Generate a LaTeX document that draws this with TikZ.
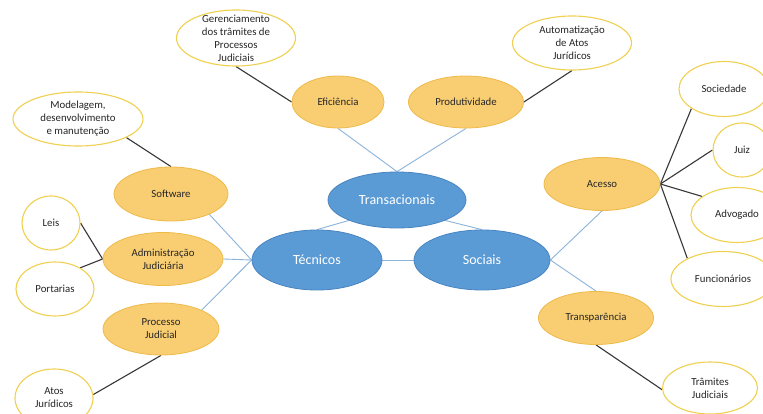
\documentclass[tikz,border=0pt]{standalone}
\usepackage{fontspec}
\setmainfont{Carlito}
\usetikzlibrary{shapes.geometric,backgrounds}

\definecolor{corefill}{RGB}{91,155,213}
\definecolor{coreline}{RGB}{72,132,192}
\definecolor{topicfill}{RGB}{249,206,114}
\definecolor{topicline}{RGB}{238,186,72}
\definecolor{leafline}{RGB}{240,208,80}
\definecolor{hubline}{RGB}{140,180,218}
\definecolor{twigline}{RGB}{55,55,55}
\definecolor{ink}{RGB}{38,38,38}

\tikzset{
  core/.style={ellipse, draw=coreline, fill=corefill, line width=0.8pt, inner sep=0pt},
  topic/.style={ellipse, draw=topicline, fill=topicfill, line width=0.8pt, inner sep=0pt},
  leaf/.style={ellipse, draw=leafline, fill=white, line width=1.1pt, inner sep=0pt},
  sz/.style 2 args={minimum width=#1, minimum height=#2},
  coretext/.style={font=\fontsize{14}{16}\selectfont, text=white},
  smalltext/.style={font=\fontsize{10.8}{13}\selectfont, text=ink, align=center},
  hub/.style={draw=hubline, line width=0.9pt},
  twig/.style={draw=twigline, line width=1.1pt},
}

\begin{document}
\begin{tikzpicture}[x=1pt,y=-1pt]
\useasboundingbox (0,0) rectangle (763,414);

% central themes
\node[core, sz={138pt}{56pt}, label={[coretext]center:Transacionais}] (trans) at (397,200) {};
\node[core, sz={130pt}{60pt}, label={[coretext]center:Técnicos}] (tec) at (317,260) {};
\node[core, sz={136pt}{60pt}, label={[coretext]center:Sociais}] (soc) at (482,260) {};

% topics
\node[topic, sz={92pt}{52pt}, label={[smalltext]center:Eficiência}] (efi) at (338,102) {};
\node[topic, sz={115pt}{52pt}, label={[smalltext]center:Produtividade}] (prod) at (466,102) {};
\node[topic, sz={114pt}{54pt}, label={[smalltext]center:Software}] (soft) at (171,194) {};
\node[topic, sz={120pt}{53pt}, label={[smalltext]center:Administração\\Judiciária}] (adm) at (163,259) {};
\node[topic, sz={116pt}{52pt}, label={[smalltext]center:Processo\\Judicial}] (proc) at (161,329) {};
\node[topic, sz={116pt}{53pt}, label={[smalltext]center:Acesso}] (ace) at (602,184) {};
\node[topic, sz={115pt}{53pt}, label={[smalltext]center:Transparência}] (transp) at (596,318) {};

% leaves
\node[leaf, sz={119pt}{56pt}, label={[smalltext]center:Gerenciamento\\dos trâmites de\\Processos\\Judiciais}] (ger) at (236,38) {};
\node[leaf, sz={119pt}{54pt}, label={[smalltext]center:Automatização\\de Atos\\Jurídicos}] (auto) at (572,43) {};
\node[leaf, sz={130pt}{54pt}, label={[smalltext]center:{Modelagem,\\desenvolvimento\\e manutenção}}] (mod) at (78,119) {};
\node[leaf, sz={58pt}{54pt}, label={[smalltext]center:Leis}] (leis) at (51,223) {};
\node[leaf, sz={78pt}{54pt}, label={[smalltext]center:Portarias}] (port) at (55,289) {};
\node[leaf, sz={78pt}{58pt}, label={[smalltext]center:Atos\\Jurídicos}] (atos) at (54,398) {};
\node[leaf, sz={90pt}{55pt}, label={[smalltext]center:Sociedade}] (soci) at (724,89) {};
\node[leaf, sz={58pt}{54pt}, label={[smalltext]center:Juiz}] (juiz) at (742,150) {};
\node[leaf, sz={92pt}{55pt}, label={[smalltext]center:Advogado}] (adv) at (737,215) {};
\node[leaf, sz={104pt}{55pt}, label={[smalltext]center:Funcionários}] (func) at (723,279) {};
\node[leaf, sz={95pt}{52pt}, label={[smalltext]center:Trâmites\\Judiciais}] (tram) at (710,388) {};

\begin{scope}[on background layer]
  \fill[white] (0,0) rectangle (763,414);
  % links between themes and topics
  \draw[hub] (efi.south) -- (trans.north);
  \draw[hub] (prod.south) -- (trans.north);
  \draw[hub] (trans.203) -- (tec.north);
  \draw[hub] (trans.337) -- (soc.north);
  \draw[hub] (tec.east) -- (soc.west);
  \draw[hub] (soft.-28) -- (tec.west);
  \draw[hub] (adm.east) -- (tec.west);
  \draw[hub] (proc.25) -- (tec.west);
  \draw[hub] (soc.east) -- (ace.south);
  \draw[hub] (soc.east) -- (transp.north);
  % links between topics and details
  \draw[twig] (ger.south) -- (efi.west);
  \draw[twig] (auto.south) -- (prod.east);
  \draw[twig] (mod.-21) -- (soft.north);
  \draw[twig] (leis.east) -- (adm.west);
  \draw[twig] (port.40) -- (adm.west);
  \draw[twig] (proc.south) -- (atos.5);
  \draw[twig] (ace.east) -- (soci.211);
  \draw[twig] (ace.east) -- (juiz.west);
  \draw[twig] (ace.east) -- (adv.152);
  \draw[twig] (ace.east) -- (func.150);
  \draw[twig] (transp.south) -- (tram.182);
\end{scope}
\end{tikzpicture}
\end{document}
